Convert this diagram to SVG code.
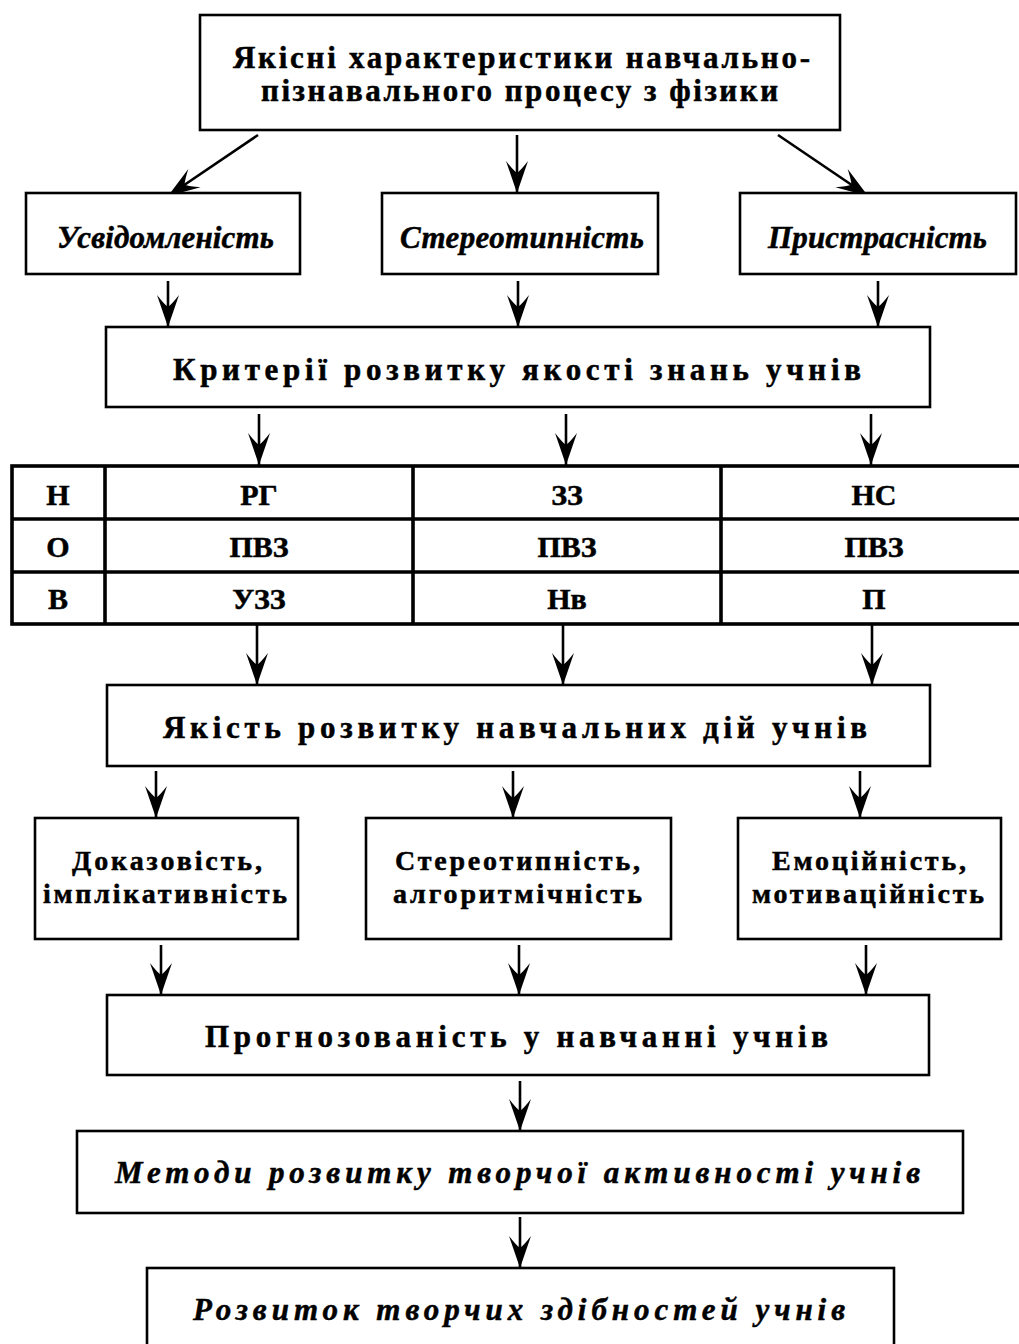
<svg xmlns="http://www.w3.org/2000/svg" width="1019" height="1344" viewBox="0 0 1019 1344">
<style>
.box{fill:#fff;stroke:#000;stroke-width:2.6}
.tbl{fill:none;stroke:#000;stroke-width:3.6}
.t{font-family:"Liberation Serif","Times New Roman",serif;font-weight:bold;fill:#000;stroke:#000;stroke-width:0.5}
.i{font-style:italic}
.c{text-anchor:middle}
.con{stroke:#000;stroke-width:2.6;fill:none;marker-end:url(#ah)}
</style>
<defs>
<marker id="ah" markerUnits="userSpaceOnUse" markerWidth="36" markerHeight="26" viewBox="-33 -13 36 26" refX="0" refY="0" orient="auto">
<path d="M0,0 L-32,-11 Q-23,-4 -20,0 Q-23,4 -32,11 Z" fill="#000"/>
</marker>
</defs>
<rect width="1019" height="1344" fill="#fff"/>

<g id="connectors">
<line class="con" x1="258" y1="135" x2="168" y2="196"/>
<line class="con" x1="517" y1="135" x2="517" y2="193"/>
<line class="con" x1="778" y1="135" x2="868" y2="196"/>
<line class="con" x1="168" y1="281" x2="168" y2="327"/>
<line class="con" x1="518" y1="281" x2="518" y2="327"/>
<line class="con" x1="878" y1="281" x2="878" y2="327"/>
<line class="con" x1="259" y1="414" x2="259" y2="465"/>
<line class="con" x1="566" y1="414" x2="566" y2="465"/>
<line class="con" x1="871" y1="414" x2="871" y2="465"/>
<line class="con" x1="257" y1="625" x2="257" y2="685"/>
<line class="con" x1="563" y1="625" x2="563" y2="685"/>
<line class="con" x1="872" y1="625" x2="872" y2="685"/>
<line class="con" x1="156" y1="771" x2="156" y2="818"/>
<line class="con" x1="513" y1="771" x2="513" y2="818"/>
<line class="con" x1="860" y1="771" x2="860" y2="818"/>
<line class="con" x1="161" y1="945" x2="161" y2="995"/>
<line class="con" x1="519" y1="945" x2="519" y2="995"/>
<line class="con" x1="866" y1="945" x2="866" y2="995"/>
<line class="con" x1="520" y1="1081" x2="520" y2="1131"/>
<line class="con" x1="520" y1="1217" x2="520" y2="1268"/>
</g>

<g id="n-top">
<rect class="box" x="200" y="15" width="640" height="115"/>
<text class="t" x="233" y="68" font-size="31" textLength="577">Якісні характеристики навчально-</text>
<text class="t" x="261" y="101" font-size="31" textLength="517">пізнавального процесу з фізики</text>
</g>

<g id="n-usv">
<rect class="box" x="26" y="193" width="274" height="81"/>
<text class="t i" x="57" y="248" font-size="31" textLength="217">Усвідомленість</text>
</g>
<g id="n-ster">
<rect class="box" x="382" y="193" width="276" height="81"/>
<text class="t i" x="400" y="248" font-size="31" textLength="244">Стереотипність</text>
</g>
<g id="n-pryst">
<rect class="box" x="740" y="193" width="276" height="81"/>
<text class="t i" x="768" y="248" font-size="31" textLength="219">Пристрасність</text>
</g>

<g id="n-kryterii">
<rect class="box" x="106" y="327" width="824" height="80"/>
<text class="t" x="173" y="380" font-size="31" textLength="688">Критерії розвитку якості знань учнів</text>
</g>

<g id="n-table">
<rect class="tbl" x="12" y="466" width="1020" height="158"/>
<line class="tbl" x1="12" y1="519" x2="1030" y2="519"/>
<line class="tbl" x1="12" y1="572" x2="1030" y2="572"/>
<line class="tbl" x1="105" y1="466" x2="105" y2="624"/>
<line class="tbl" x1="413" y1="466" x2="413" y2="624"/>
<line class="tbl" x1="721" y1="466" x2="721" y2="624"/>
<text class="t c" x="58" y="505" font-size="30">Н</text>
<text class="t c" x="259" y="505" font-size="30">РГ</text>
<text class="t c" x="567" y="505" font-size="30">ЗЗ</text>
<text class="t c" x="874" y="505" font-size="30">НС</text>
<text class="t c" x="58" y="557" font-size="30">О</text>
<text class="t c" x="259" y="557" font-size="30">ПВЗ</text>
<text class="t c" x="567" y="557" font-size="30">ПВЗ</text>
<text class="t c" x="874" y="557" font-size="30">ПВЗ</text>
<text class="t c" x="58" y="609" font-size="30">В</text>
<text class="t c" x="259" y="609" font-size="30">УЗЗ</text>
<text class="t c" x="567" y="609" font-size="30">Нв</text>
<text class="t c" x="874" y="609" font-size="30">П</text>
</g>

<g id="n-yakist">
<rect class="box" x="107" y="685" width="823" height="81"/>
<text class="t" x="163" y="738" font-size="31" textLength="704">Якість розвитку навчальних дій учнів</text>
</g>

<g id="n-dokaz">
<rect class="box" x="35" y="818" width="263" height="121"/>
<text class="t" x="72" y="870" font-size="28" textLength="190">Доказовість,</text>
<text class="t" x="43" y="903" font-size="28" textLength="244">імплікативність</text>
</g>
<g id="n-stereo2">
<rect class="box" x="366" y="818" width="305" height="121"/>
<text class="t" x="395" y="870" font-size="28" textLength="245">Стереотипність,</text>
<text class="t" x="393" y="903" font-size="28" textLength="249">алгоритмічність</text>
</g>
<g id="n-emoc">
<rect class="box" x="738" y="818" width="263" height="121"/>
<text class="t" x="772" y="870" font-size="28" textLength="194">Емоційність,</text>
<text class="t" x="752" y="903" font-size="28" textLength="232">мотиваційність</text>
</g>

<g id="n-prognoz">
<rect class="box" x="107" y="995" width="822" height="80"/>
<text class="t" x="205" y="1047" font-size="31" textLength="623">Прогнозованість у навчанні учнів</text>
</g>

<g id="n-metody">
<rect class="box" x="77" y="1131" width="886" height="82"/>
<text class="t i" x="115" y="1183" font-size="31" textLength="805">Методи розвитку творчої активності учнів</text>
</g>

<g id="n-rozvytok">
<rect class="box" x="147" y="1268" width="747" height="90"/>
<text class="t i" x="193" y="1320" font-size="31" textLength="652">Розвиток творчих здібностей учнів</text>
</g>
</svg>
